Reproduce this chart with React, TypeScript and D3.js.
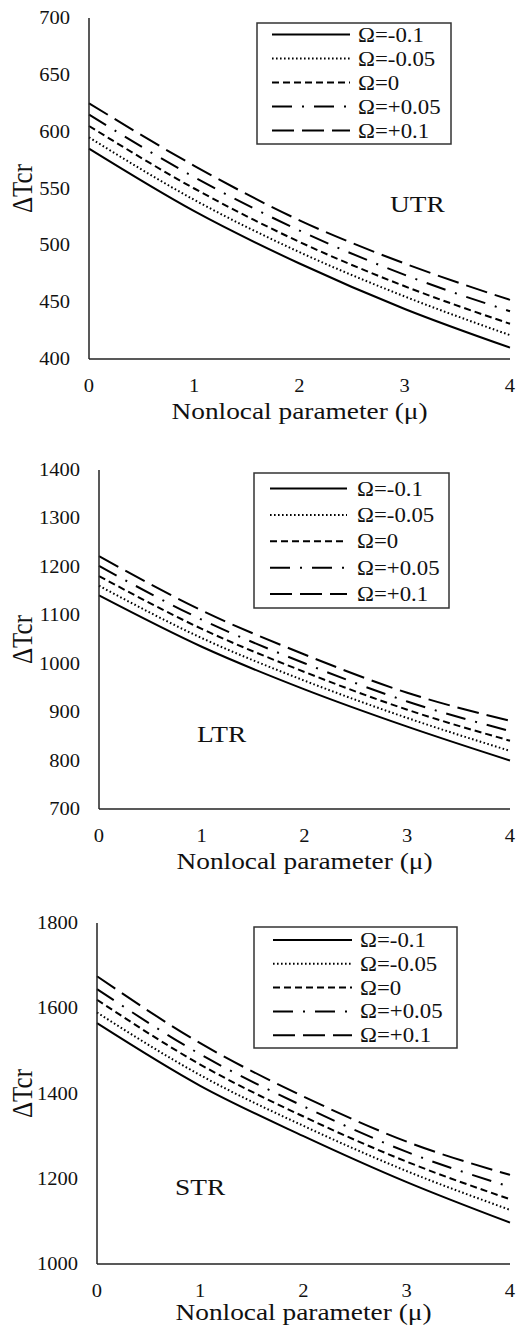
import React from 'react'
import * as d3 from 'd3'

// nonlocal parameter values on the x axis
const mu = [0, 1, 2, 3, 4]
const omegaLabels = ['Ω=-0.1', 'Ω=-0.05', 'Ω=0', 'Ω=+0.05', 'Ω=+0.1']
const xTicks = [0, 1, 2, 3, 4]

// ΔTcr, one row per Ω
const utrValues = [
  [585, 530, 484, 444, 410],
  [595, 540, 494, 455, 421],
  [605, 550, 503, 464, 431],
  [615, 560, 513, 474, 442],
  [625, 570, 522, 484, 452],
]
const ltrValues = [
  [1141, 1035, 947, 870, 800],
  [1161, 1053, 965, 888, 820],
  [1181, 1072, 983, 905, 841],
  [1202, 1091, 1001, 922, 861],
  [1222, 1110, 1019, 940, 882],
]
const strValues = [
  [1565, 1418, 1300, 1192, 1097],
  [1590, 1443, 1324, 1218, 1127],
  [1620, 1468, 1346, 1240, 1152],
  [1645, 1492, 1370, 1263, 1181],
  [1675, 1518, 1393, 1287, 1209],
]

const utrTicks = [400, 450, 500, 550, 600, 650, 700]
const ltrTicks = [700, 800, 900, 1000, 1100, 1200, 1300, 1400]
const strTicks = [1000, 1200, 1400, 1600, 1800]

const dashes = ['', '1.6,2.4', '7,4', '20,10,2,10', '22,8']

const FONT = '"Liberation Serif", "Times New Roman", serif'
const SX = 1.14

const panels = [
  {
    label: 'UTR', values: utrValues, ticks: utrTicks,
    x0: 89, x1: 510, top: 18, bottom: 359, titleDy: 60,
    lab: [390, 212],
    legend: { x: 257, y: 23, w: 194, h: 121, row0: 34.5, step: 24, l0: 272, l1: 350, tx: 358 },
  },
  {
    label: 'LTR', values: ltrValues, ticks: ltrTicks,
    x0: 99, x1: 510, top: 470, bottom: 809, titleDy: 60,
    lab: [197, 742],
    legend: { x: 254, y: 473, w: 195, h: 135, row0: 488.5, step: 26.4, l0: 270, l1: 347, tx: 357 },
  },
  {
    label: 'STR', values: strValues, ticks: strTicks,
    x0: 97, x1: 510, top: 923, bottom: 1264, titleDy: 56,
    lab: [175, 1195],
    legend: { x: 254, y: 927, w: 203, h: 121, row0: 940, step: 23.8, l0: 273, l1: 352, tx: 360 },
  },
]

const Txt = ({ x, y, size, anchor = 'start', rotate = 0, children }: any) => (
  <text
    transform={`translate(${x},${y}) scale(${SX},1)${rotate ? ` rotate(${rotate})` : ''}`}
    fontFamily={FONT}
    fontSize={size}
    textAnchor={anchor}
    fill="#111"
  >
    {children}
  </text>
)

const Panel = ({ p }: any) => {
  const x = d3.scaleLinear().domain([0, 4]).range([p.x0, p.x1])
  const y = d3
    .scaleLinear()
    .domain([p.ticks[0], p.ticks[p.ticks.length - 1]])
    .range([p.bottom, p.top])
  const line = d3
    .line<number>()
    .x((_, i) => x(mu[i]))
    .y((d) => y(d))
    .curve(d3.curveMonotoneX)
  const lg = p.legend

  return (
    <g>
      {p.values.map((s: number[], i: number) => (
        <path
          key={i}
          d={line(s) || ''}
          fill="none"
          stroke="#000"
          strokeWidth={2}
          strokeDasharray={dashes[i] || undefined}
        />
      ))}
      <line x1={p.x0} x2={p.x0} y1={p.top} y2={p.bottom} stroke="#222" strokeWidth={1.5} />
      <line x1={p.x0} x2={p.x1} y1={p.bottom} y2={p.bottom} stroke="#222" strokeWidth={1.5} />
      {p.ticks.map((t: number) => (
        <Txt key={t} x={p.x0 - 19} y={y(t) + 6} size={18} anchor="end">
          {t}
        </Txt>
      ))}
      {xTicks.map((t) => (
        <Txt key={t} x={x(t)} y={p.bottom + 33} size={18} anchor="middle">
          {t}
        </Txt>
      ))}
      <Txt x={(p.x0 + p.x1) / 2} y={p.bottom + p.titleDy} size={24} anchor="middle">
        Nonlocal parameter (μ)
      </Txt>
      <Txt x={32} y={(p.top + p.bottom) / 2} size={25} anchor="middle" rotate={-90}>
        ΔTcr
      </Txt>
      <Txt x={p.lab[0]} y={p.lab[1]} size={24}>
        {p.label}
      </Txt>
      <rect x={lg.x} y={lg.y} width={lg.w} height={lg.h} fill="#fff" stroke="#333" strokeWidth={1.5} />
      {omegaLabels.map((name, i) => {
        const ry = lg.row0 + i * lg.step
        return (
          <g key={name}>
            <line x1={lg.l0} x2={lg.l1} y1={ry} y2={ry} stroke="#000" strokeWidth={2} strokeDasharray={dashes[i] || undefined} />
            <Txt x={lg.tx} y={ry + 7} size={20}>
              {name}
            </Txt>
          </g>
        )
      })}
    </g>
  )
}

export default function App() {
  return (
    <svg
      width={517}
      height={1327}
      style={{ position: 'absolute', left: 0, top: 0, background: '#fff' }}
    >
      {panels.map((p) => (
        <Panel key={p.label} p={p} />
      ))}
    </svg>
  )
}
